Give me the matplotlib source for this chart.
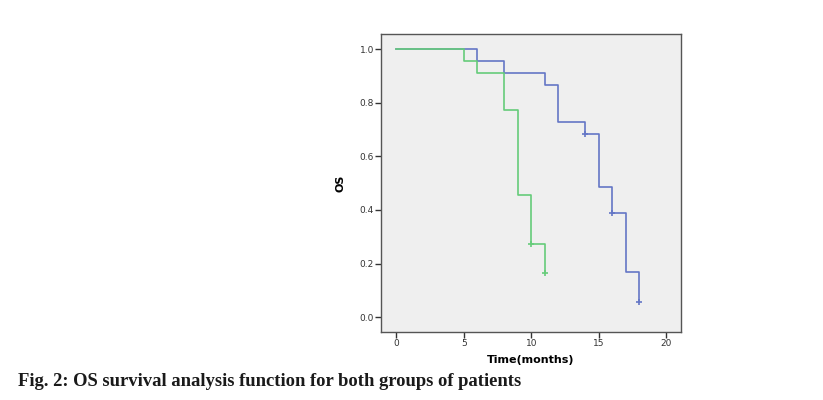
import matplotlib
matplotlib.use("Agg")
from matplotlib import pyplot as plt

# Kaplan-Meier step data
green_t = [0, 5, 6, 8, 9, 10, 11]
green_s = [1.0, 0.955, 0.909, 0.773, 0.455, 0.273, 0.164]
green_cens_t = [10, 11]
green_cens_s = [0.273, 0.164]

blue_t = [0, 6, 8, 11, 12, 14, 15, 16, 17, 18]
blue_s = [1.0, 0.955, 0.909, 0.864, 0.727, 0.682, 0.486, 0.389, 0.167, 0.056]
blue_cens_t = [14, 16, 18]
blue_cens_s = [0.682, 0.389, 0.056]

xticks = [0, 5, 10, 15, 20]
yticks = [0.0, 0.2, 0.4, 0.6, 0.8, 1.0]

blue = "#6476c6"
green = "#66cc7a"

fig = plt.figure(figsize=(8.23, 4.0), dpi=100)
ax = fig.add_axes([0.463, 0.17, 0.3645, 0.745])
ax.set_facecolor("#efefef")

ax.step(blue_t, blue_s, where="post", color=blue, lw=1.2)
ax.step(green_t, green_s, where="post", color=green, lw=1.2)
ax.plot(blue_cens_t, blue_cens_s, "+", color=blue, ms=5, mew=1.2)
ax.plot(green_cens_t, green_cens_s, "+", color=green, ms=5, mew=1.2)

ax.set_xlim(-1.13, 21.1)
ax.set_ylim(-0.055, 1.056)
ax.set_xticks(xticks)
ax.set_yticks(yticks)
ax.set_yticklabels(["%.1f" % v for v in yticks])
ax.tick_params(labelsize=6.5, length=4, width=1, colors="#333333", pad=1)
for s in ax.spines.values():
    s.set_color("#555555")
    s.set_linewidth(1.0)

ax.set_xlabel("Time(months)", fontsize=8, fontweight="bold", labelpad=5)
ax.set_ylabel("OS", fontsize=8, fontweight="bold", labelpad=10)

fig.text(0.022, 0.035, "Fig. 2: OS survival analysis function for both groups of patients",
         family="Liberation Serif", fontsize=13.4, fontweight="bold", color="#1a1a1a")

fig.savefig("out.png", dpi=100)
